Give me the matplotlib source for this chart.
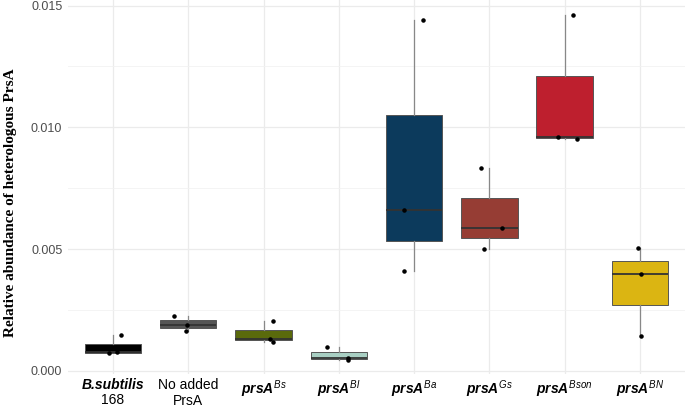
import matplotlib
matplotlib.use('Agg')
import matplotlib.pyplot as plt
import matplotlib.transforms as mtransforms
import numpy as np

# relative abundance of heterologous PrsA, three replicates per strain
groups = ['B.subtilis 168', 'No added PrsA', 'prsA Bs', 'prsA Bl',
          'prsA Ba', 'prsA Gs', 'prsA Bson', 'prsA BN']
tick_labels = ['', 'No added\nPrsA',
               r'$\mathit{prsA}^{\mathsf{Bs}}$', r'$\mathit{prsA}^{\mathsf{Bl}}$',
               r'$\mathit{prsA}^{\mathsf{Ba}}$', r'$\mathit{prsA}^{\mathsf{Gs}}$',
               r'$\mathit{prsA}^{\mathsf{Bson}}$', r'$\mathit{prsA}^{\mathsf{BN}}$']
bsub = [0.00073, 0.00076, 0.00148]
noadd = [0.00164, 0.00190, 0.00227]
bs = [0.00120, 0.00133, 0.00205]
bl = [0.00047, 0.00052, 0.00100]
ba = [0.00410, 0.00659, 0.01440]
gs = [0.00500, 0.00588, 0.00833]
bson = [0.00952, 0.00959, 0.01459]
bn = [0.00143, 0.00399, 0.00504]
values = [bsub, noadd, bs, bl, ba, gs, bson, bn]

colors = ['#000000', '#555555', '#5a6a0c', '#a8cfc3',
          '#0c3a5c', '#963d34', '#be1f2e', '#dbb512']
# horizontal jitter of the dots (style only)
jitter = [[-0.05, 0.05, 0.10], [-0.03, -0.01, -0.19], [0.12, 0.09, 0.12],
          [0.12, 0.12, -0.15], [-0.13, -0.13, 0.12], [-0.07, 0.17, -0.11],
          [0.17, -0.09, 0.11], [0.01, 0.01, -0.03]]

plt.rcParams['font.family'] = 'Liberation Sans'
plt.rcParams['mathtext.fontset'] = 'custom'
plt.rcParams['mathtext.rm'] = 'Liberation Sans'
plt.rcParams['mathtext.it'] = 'Liberation Sans:italic:bold'
plt.rcParams['mathtext.sf'] = 'Liberation Sans:italic'

fig = plt.figure(figsize=(6.85, 4.07), dpi=100)
ax = fig.add_axes([0.099, 0.0811, 0.901, 0.9189])

pos = np.arange(1, len(groups) + 1)
bp = ax.boxplot(values, positions=pos, widths=0.75, patch_artist=True,
                showfliers=False, showcaps=False, whis=1.5,
                medianprops=dict(color='#333333', linewidth=1.3),
                whiskerprops=dict(color='#888888', linewidth=0.9),
                boxprops=dict(edgecolor='#555555', linewidth=0.7),
                zorder=2)
for patch, c in zip(bp['boxes'], colors):
    patch.set_facecolor(c)

for i, vals in enumerate(values):
    ax.scatter(pos[i] + np.array(jitter[i]), vals, s=5, color='black', zorder=3)

ax.set_xlim(0.4, 8.6)
ax.set_ylim(-0.000123, 0.015226)
ax.set_yticks([0.0, 0.005, 0.010, 0.015])
ax.set_yticklabels(['0.000', '0.005', '0.010', '0.015'], fontsize=9, color='#4d4d4d')
ax.set_yticks([0.0025, 0.0075, 0.0125], minor=True)
ax.set_xticks(pos)
ax.set_xticklabels(tick_labels, fontsize=10, color='black')
ax.tick_params(axis='both', which='both', length=0)
ax.tick_params(axis='y', pad=4)
ax.tick_params(axis='x', pad=3)

# first label mixes bold italic and regular text
trans = mtransforms.blended_transform_factory(ax.transData, fig.transFigure)
ax.text(pos[0], 1 - 378 / 407, 'B.subtilis', transform=trans, ha='center', va='top',
        fontsize=10, fontstyle='italic', fontweight='bold')
ax.text(pos[0], 1 - 393 / 407, '168', transform=trans, ha='center', va='top',
        fontsize=10)

ax.grid(True, which='major', color='#ebebeb', linewidth=0.9, zorder=0)
ax.grid(True, which='minor', axis='y', color='#f2f2f2', linewidth=0.6, zorder=0)
ax.set_axisbelow(True)
for s in ax.spines.values():
    s.set_visible(False)

fig.text(0.016, 0.503, 'Relative abundance of heterologous PrsA', rotation=90,
         ha='center', va='center', fontsize=11, fontweight='bold',
         family='Liberation Serif')

fig.savefig('out.png', dpi=100)
